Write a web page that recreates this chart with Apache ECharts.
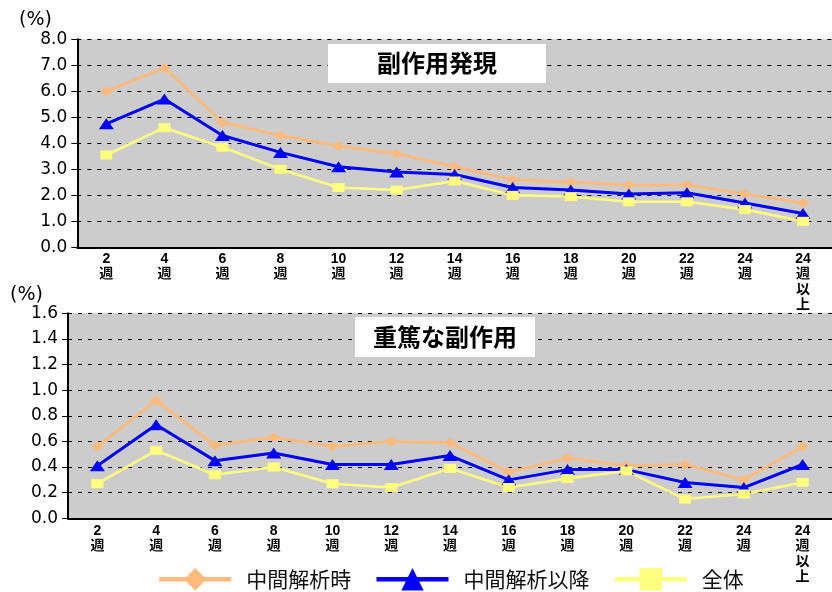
<!DOCTYPE html>
<html>
<head>
<meta charset="utf-8">
<script src="https://cdn.jsdelivr.net/npm/echarts@6/dist/echarts.min.js"></script>
<style>
  html, body { margin: 0; padding: 0; background: #fff; }
  #chart { width: 832px; height: 592px; }
</style>
</head>
<body>
<div id="chart"></div>
<script>
// Treatment period categories (shared by both panels)
const categories = ['2週', '4週', '6週', '8週', '10週', '12週', '14週', '16週', '18週', '20週', '22週', '24週', '24週以上'];

// Series names
const seriesNames = ['中間解析時', '中間解析以降', '全体'];

// Upper panel: incidence of adverse reactions (%)
const onsetAtInterim    = [6.0, 6.9, 4.8, 4.3, 3.9, 3.6, 3.1, 2.6, 2.5, 2.4, 2.4, 2.05, 1.7];
const onsetAfterInterim = [4.75, 5.7, 4.3, 3.65, 3.1, 2.9, 2.8, 2.3, 2.2, 2.05, 2.1, 1.7, 1.3];
const onsetOverall      = [3.55, 4.6, 3.85, 3.0, 2.3, 2.2, 2.55, 2.0, 1.95, 1.75, 1.75, 1.45, 1.0];

// Lower panel: incidence of serious adverse reactions (%)
const seriousAtInterim    = [0.56, 0.92, 0.57, 0.63, 0.56, 0.60, 0.59, 0.36, 0.47, 0.41, 0.42, 0.30, 0.56];
const seriousAfterInterim = [0.41, 0.73, 0.45, 0.51, 0.42, 0.42, 0.49, 0.30, 0.38, 0.38, 0.28, 0.24, 0.42];
const seriousOverall      = [0.27, 0.53, 0.34, 0.40, 0.27, 0.24, 0.39, 0.24, 0.31, 0.37, 0.15, 0.19, 0.28];

// Panel headings and unit label
const panelTitles = ['副作用発現', '重篤な副作用'];
const unitLabel = '(%)';

const COLORS = ['#FFBB7D', '#0000FF', '#FFFF80'];
const SYMBOLS = ['diamond', 'triangle', 'rect'];
const SYMBOL_SIZES = [[13, 10], [15, 11], [12, 9]];
const LINE_WIDTHS = [3, 3, 2.5];

const CJK = "'Noto Sans CJK JP'";
const numFont = "'DejaVu Sans', " + CJK;
const catFont = "'Liberation Sans Narrow', 'Liberation Sans', " + CJK;

// "24週以上" -> "24\n週\n以\n上"
function stackLabel(s) {
  const m = s.match(/^(\d+)(.*)$/);
  return [m[1]].concat(m[2].split('')).join('\n');
}

function makeXAxis(gridIndex, margin) {
  return {
    type: 'category',
    gridIndex: gridIndex,
    data: categories,
    boundaryGap: true,
    axisLine: { lineStyle: { color: '#000', width: 2 } },
    axisTick: { show: false },
    axisLabel: {
      interval: 0,
      margin: margin,
      color: '#000',
      fontWeight: 'bold',
      fontSize: 14,
      lineHeight: 15.5,
      fontFamily: catFont,
      formatter: stackLabel
    }
  };
}

function makeYAxis(gridIndex, max, interval) {
  return {
    type: 'value',
    gridIndex: gridIndex,
    min: 0,
    max: max,
    interval: interval,
    axisLine: { show: true, lineStyle: { color: '#000', width: 2 } },
    axisTick: { show: true, length: 6, lineStyle: { color: '#000', width: 1 } },
    axisLabel: {
      margin: 10,
      color: '#000',
      fontSize: 17,
      fontFamily: numFont,
      formatter: v => v.toFixed(1)
    },
    splitLine: { show: true, lineStyle: { color: '#000', width: 1, type: [4, 6] } }
  };
}

function makeSeries(gridIndex, idx, values) {
  return {
    name: seriesNames[idx],
    type: 'line',
    xAxisIndex: gridIndex,
    yAxisIndex: gridIndex,
    data: values,
    symbol: SYMBOLS[idx],
    symbolSize: SYMBOL_SIZES[idx],
    showAllSymbol: true,
    color: COLORS[idx],
    lineStyle: { color: COLORS[idx], width: LINE_WIDTHS[idx] },
    itemStyle: { color: COLORS[idx] },
    emphasis: { disabled: true },
    animation: false
  };
}

const titleText = {
  fontSize: 24,
  fontWeight: 'bold',
  color: '#000',
  fontFamily: CJK
};

const option = {
  backgroundColor: '#fff',
  animation: false,
  title: [
    { text: panelTitles[0], left: 328, top: 44, backgroundColor: '#fff', padding: [7, 49, 8, 49], textStyle: titleText },
    { text: panelTitles[1], left: 355, top: 317, backgroundColor: '#fff', padding: [8, 18, 8, 18], textStyle: titleText }
  ],
  grid: [
    { left: 77.3, top: 39.3, width: 764, height: 208, show: true, backgroundColor: '#CCCCCC', borderWidth: 0 },
    { left: 68, top: 313.3, width: 765, height: 205, show: true, backgroundColor: '#CCCCCC', borderWidth: 0 }
  ],
  xAxis: [makeXAxis(0, 4), makeXAxis(1, 5)],
  yAxis: [makeYAxis(0, 8, 1), makeYAxis(1, 1.6, 0.2)],
  legend: {
    data: seriesNames,
    left: 152,
    top: 563,
    itemWidth: 72,
    itemHeight: 28,
    itemGap: 23,
    lineStyle: { width: 4.5 },
    textStyle: { fontSize: 21, color: '#111', fontFamily: CJK, padding: [0, 0, 0, 10] },
    selectedMode: false
  },
  graphic: [
    { type: 'text', left: 19, top: 11, style: { text: unitLabel, fontSize: 19, fontFamily: numFont, fill: '#000' } },
    { type: 'text', left: 10, top: 286, style: { text: unitLabel, fontSize: 19, fontFamily: numFont, fill: '#000' } }
  ],
  series: [
    makeSeries(0, 0, onsetAtInterim),
    makeSeries(0, 1, onsetAfterInterim),
    makeSeries(0, 2, onsetOverall),
    makeSeries(1, 0, seriousAtInterim),
    makeSeries(1, 1, seriousAfterInterim),
    makeSeries(1, 2, seriousOverall)
  ]
};

const chart = echarts.init(document.getElementById('chart'), null, { renderer: 'canvas' });
chart.setOption(option);
</script>
</body>
</html>
